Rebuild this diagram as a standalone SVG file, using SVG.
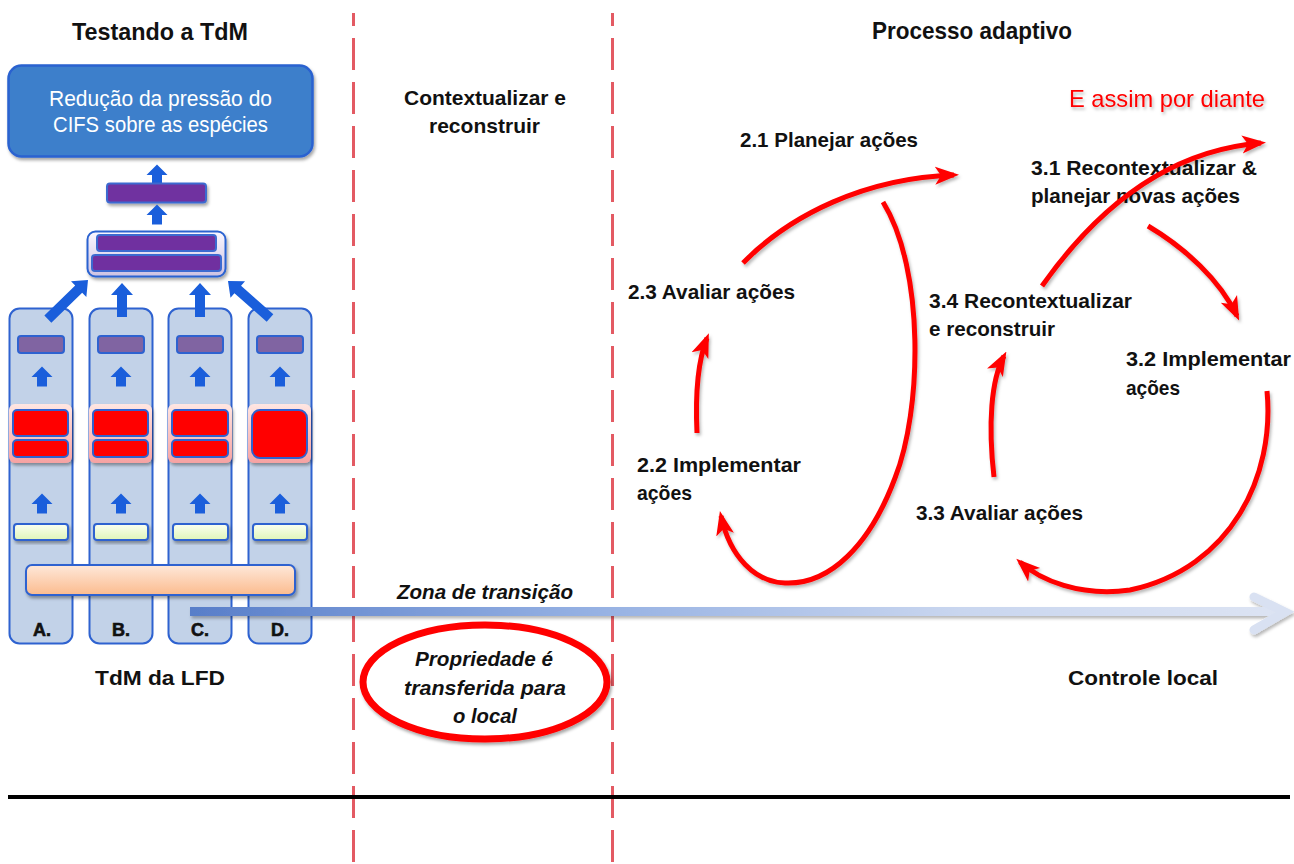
<svg xmlns="http://www.w3.org/2000/svg" xmlns:xlink="http://www.w3.org/1999/xlink" width="1294" height="864" viewBox="0 0 1294 864">
  <style>
    .t { font-family: "Liberation Sans", Arial, sans-serif; font-weight: bold; font-size: 21px; fill: #111; }
    .h { font-size: 24px; }
    .it { font-style: italic; }
    .col { fill: #c2d2e8; stroke: #2e62d0; stroke-width: 2; }
    .prp { fill: #8064a2; stroke: #2e62d0; stroke-width: 2; }
    .vio { fill: #7030a0; stroke: #3c6ad0; stroke-width: 2; }
    .red { fill: #ff0000; stroke: #2e62d0; stroke-width: 2; }
    .lime { fill: url(#limeG); stroke: #2e62d0; stroke-width: 2; }
    .pink { fill: url(#pinkG); }
    .barrow { fill: #1a5edb; }
    .loop { fill: none; stroke: #ff0000; stroke-width: 5; marker-end: url(#barb); }
    .sep { fill: none; stroke: #e35a63; stroke-width: 3; stroke-dasharray: 32 12; stroke-dashoffset: 19; }
    .lbl { font-family: "Liberation Sans", Arial, sans-serif; font-weight: bold; font-size: 18px; fill: #111; stroke: #111; stroke-width: 0.6; text-anchor: middle; }
  </style>
  <defs>
    <filter id="shadow" x="-10%" y="-10%" width="130%" height="140%">
      <feDropShadow dx="1.5" dy="2.5" stdDeviation="1.8" flood-color="#000" flood-opacity="0.35"/>
    </filter>
    <filter id="lshadow" x="-5%" y="-20%" width="110%" height="160%">
      <feDropShadow dx="1.5" dy="2.5" stdDeviation="1.5" flood-color="#000" flood-opacity="0.28"/>
    </filter>
    <filter id="glow" x="-5%" y="-5%" width="110%" height="110%">
      <feGaussianBlur stdDeviation="1.2"/>
    </filter>
    <linearGradient id="limeG" x1="0" y1="0" x2="0" y2="1">
      <stop offset="0" stop-color="#fbfff2"/>
      <stop offset="1" stop-color="#dff5b8"/>
    </linearGradient>
    <linearGradient id="pinkG" x1="0" y1="0" x2="0" y2="1">
      <stop offset="0" stop-color="#ffe6e2"/>
      <stop offset="1" stop-color="#f6a2a2"/>
    </linearGradient>
    <linearGradient id="peachG" x1="0" y1="0" x2="0" y2="1">
      <stop offset="0" stop-color="#fee8da"/>
      <stop offset="1" stop-color="#fbbb8e"/>
    </linearGradient>
    <linearGradient id="lavG" x1="0" y1="0" x2="0" y2="1">
      <stop offset="0" stop-color="#faf7ff"/>
      <stop offset="1" stop-color="#cdc2e2"/>
    </linearGradient>
    <linearGradient id="flowG" gradientUnits="userSpaceOnUse" x1="190" y1="0" x2="1290" y2="0">
      <stop offset="0" stop-color="#587ec9"/>
      <stop offset="0.35" stop-color="#93afe2"/>
      <stop offset="0.7" stop-color="#c9d6ef"/>
      <stop offset="1" stop-color="#dde4f3"/>
    </linearGradient>
    <!-- barbed head for the red cycle arrows -->
    <marker id="barb" markerUnits="userSpaceOnUse" viewBox="0 0 24 20" refX="19" refY="10" markerWidth="24" markerHeight="20" orient="auto">
      <path d="M0,1 L24,10 L0,19 L6,10 Z" fill="#ff0000"/>
    </marker>
    <!-- small upward block arrow, origin at the head's base -->
    <path id="up" d="M0,-10.5 L10.5,0 L5,0 L5,9.5 L-5,9.5 L-5,0 L-10.5,0 Z"/>
    <!-- block arrows pointing along +x, tip at origin -->
    <path id="diag" d="M0,0 L-13,-11 L-13,-5 L-56,-5 L-56,5 L-13,5 L-13,11 Z"/>
    <path id="vert" d="M0,0 L-12,-11 L-12,-5 L-34,-5 L-34,5 L-12,5 L-12,11 Z"/>
  </defs>

  <rect width="1294" height="864" fill="#ffffff"/>

  <!-- zone separators -->
  <g id="separators">
    <line class="sep" x1="353.5" y1="13" x2="353.5" y2="864" stroke="#f3b9bc" stroke-width="6" filter="url(#glow)" opacity="0.8"/>
    <line class="sep" x1="353.5" y1="13" x2="353.5" y2="864"/>
    <line class="sep" x1="612.5" y1="13" x2="612.5" y2="864" stroke="#f3b9bc" stroke-width="6" filter="url(#glow)" opacity="0.8"/>
    <line class="sep" x1="612.5" y1="13" x2="612.5" y2="864"/>
  </g>

  <!-- baseline -->
  <line x1="8" y1="797" x2="1290" y2="797" stroke="#000" stroke-width="4"/>

  <!-- headings -->
  <g id="headings">
    <text class="t h" x="72" y="40" textLength="176" lengthAdjust="spacingAndGlyphs">Testando a TdM</text>
    <text class="t h" x="872" y="39" textLength="200" lengthAdjust="spacingAndGlyphs">Processo adaptivo</text>
    <text class="t" x="95" y="685" textLength="130" lengthAdjust="spacingAndGlyphs">TdM da LFD</text>
    <text class="t" x="1068" y="685" textLength="150" lengthAdjust="spacingAndGlyphs">Controle local</text>
  </g>

  <!-- goal box -->
  <g id="goal">
    <rect x="8.5" y="65.5" width="304" height="91" rx="13" fill="#3e7fcb" stroke="#2a62d0" stroke-width="2.5" filter="url(#shadow)"/>
    <text x="49" y="106" textLength="223" lengthAdjust="spacingAndGlyphs" style="font-family:'Liberation Sans',Arial,sans-serif;font-size:22px;fill:#ffffff">Redução da pressão do</text>
    <text x="53" y="132" textLength="215" lengthAdjust="spacingAndGlyphs" style="font-family:'Liberation Sans',Arial,sans-serif;font-size:22px;fill:#ffffff">CIFS sobre as espécies</text>
  </g>

  <!-- result chain above the columns -->
  <g id="chain">
    <use xlink:href="#up" class="barrow" x="157" y="175"/>
    <rect class="vio" x="107" y="183.5" width="99" height="19" rx="3" filter="url(#shadow)"/>
    <use xlink:href="#up" class="barrow" x="157" y="215"/>
    <rect x="87.5" y="231.5" width="138" height="45" rx="8" fill="url(#lavG)" stroke="#2a62d0" stroke-width="2" filter="url(#shadow)"/>
    <rect class="vio" x="97" y="235" width="119" height="16" rx="3"/>
    <rect class="vio" x="92" y="255" width="129" height="16" rx="3"/>
  </g>

  <!-- column A -->
  <g id="colA">
    <rect class="col" x="9.5" y="308.5" width="63" height="335" rx="10"/>
    <rect class="prp" x="18" y="336" width="46" height="17" rx="3"/>
    <use xlink:href="#up" class="barrow" x="42" y="377"/>
    <rect class="pink" x="9" y="404" width="63" height="59" rx="6" filter="url(#shadow)"/>
    <rect class="red" x="13" y="410" width="55" height="26" rx="4"/>
    <rect class="red" x="13" y="440" width="55" height="17" rx="4"/>
    <use xlink:href="#up" class="barrow" x="42" y="504"/>
    <rect class="lime" x="14" y="524" width="54" height="16" rx="3" filter="url(#shadow)"/>
    <text class="lbl" x="42" y="636">A.</text>
  </g>

  <!-- column B -->
  <g id="colB">
    <rect class="col" x="89.5" y="308.5" width="63" height="335" rx="10"/>
    <rect class="prp" x="98" y="336" width="46" height="17" rx="3"/>
    <use xlink:href="#up" class="barrow" x="121" y="377"/>
    <rect class="pink" x="89" y="404" width="63" height="59" rx="6" filter="url(#shadow)"/>
    <rect class="red" x="93" y="410" width="55" height="26" rx="4"/>
    <rect class="red" x="93" y="440" width="55" height="17" rx="4"/>
    <use xlink:href="#up" class="barrow" x="121" y="504"/>
    <rect class="lime" x="94" y="524" width="54" height="16" rx="3" filter="url(#shadow)"/>
    <text class="lbl" x="121" y="636">B.</text>
  </g>

  <!-- column C -->
  <g id="colC">
    <rect class="col" x="168.5" y="308.5" width="63" height="335" rx="10"/>
    <rect class="prp" x="177" y="336" width="46" height="17" rx="3"/>
    <use xlink:href="#up" class="barrow" x="200" y="377"/>
    <rect class="pink" x="168" y="404" width="64" height="59" rx="6" filter="url(#shadow)"/>
    <rect class="red" x="172" y="410" width="56" height="26" rx="4"/>
    <rect class="red" x="172" y="440" width="56" height="17" rx="4"/>
    <use xlink:href="#up" class="barrow" x="200" y="504"/>
    <rect class="lime" x="173" y="524" width="55" height="16" rx="3" filter="url(#shadow)"/>
    <text class="lbl" x="200" y="636">C.</text>
  </g>

  <!-- column D -->
  <g id="colD">
    <rect class="col" x="248.5" y="308.5" width="63" height="335" rx="10"/>
    <rect class="prp" x="257" y="336" width="46" height="17" rx="3"/>
    <use xlink:href="#up" class="barrow" x="280" y="377"/>
    <rect class="pink" x="248" y="404" width="63" height="59" rx="6" filter="url(#shadow)"/>
    <rect class="red" x="252" y="410" width="55" height="48" rx="8"/>
    <use xlink:href="#up" class="barrow" x="280" y="504"/>
    <rect class="lime" x="253" y="524" width="54" height="16" rx="3" filter="url(#shadow)"/>
    <text class="lbl" x="280" y="636">D.</text>
  </g>

  <!-- arrows from the columns into the combined box -->
  <g id="feeds" class="barrow">
    <use xlink:href="#diag" transform="translate(88,280) rotate(-44.2)"/>
    <use xlink:href="#vert" transform="translate(122,283) rotate(-90)"/>
    <use xlink:href="#vert" transform="translate(200,283) rotate(-90)"/>
    <use xlink:href="#diag" transform="translate(228,281) rotate(-138.6)"/>
  </g>

  <!-- shared base bar -->
  <g id="base">
    <rect x="26" y="565" width="269" height="30" rx="6" fill="url(#peachG)" stroke="#2e62d0" stroke-width="2" filter="url(#shadow)"/>
  </g>

  <!-- transition flow arrow -->
  <g id="flow" filter="url(#lshadow)">
    <rect x="190" y="607" width="1090" height="9" fill="url(#flowG)"/>
    <polyline points="1254,597 1285,612 1254,630" fill="none" stroke="#d9e1f2" stroke-width="9" stroke-linejoin="miter" stroke-linecap="round"/>
  </g>

  <!-- middle zone -->
  <g id="contextualize">
    <text class="t" x="404" y="105" textLength="162" lengthAdjust="spacingAndGlyphs">Contextualizar e</text>
    <text class="t" x="429" y="133" textLength="111" lengthAdjust="spacingAndGlyphs">reconstruir</text>
    <text class="t it" x="397" y="599" textLength="176" lengthAdjust="spacingAndGlyphs">Zona de transição</text>
  </g>

  <g id="ownership">
    <ellipse cx="485" cy="682" rx="122" ry="57" fill="#ffffff" stroke="#ff0000" stroke-width="7" filter="url(#shadow)"/>
    <text class="t it" x="415" y="666" textLength="138" lengthAdjust="spacingAndGlyphs">Propriedade é</text>
    <text class="t it" x="404" y="695" textLength="162" lengthAdjust="spacingAndGlyphs">transferida para</text>
    <text class="t it" x="453" y="723" textLength="64" lengthAdjust="spacingAndGlyphs">o local</text>
  </g>

  <!-- cycle 2 labels -->
  <g id="cycle2">
    <text class="t" x="740" y="147" textLength="178" lengthAdjust="spacingAndGlyphs">2.1 Planejar ações</text>
    <text class="t" x="637" y="472" textLength="164" lengthAdjust="spacingAndGlyphs">2.2 Implementar</text>
    <text class="t" x="637" y="500" textLength="55" lengthAdjust="spacingAndGlyphs">ações</text>
    <text class="t" x="628" y="299" textLength="167" lengthAdjust="spacingAndGlyphs">2.3 Avaliar ações</text>
  </g>

  <!-- cycle 3 labels -->
  <g id="cycle3">
    <text class="t" x="1031" y="175" textLength="226" lengthAdjust="spacingAndGlyphs">3.1 Recontextualizar &amp;</text>
    <text class="t" x="1031" y="203" textLength="209" lengthAdjust="spacingAndGlyphs">planejar novas ações</text>
    <text class="t" x="1126" y="366" textLength="165" lengthAdjust="spacingAndGlyphs">3.2 Implementar</text>
    <text class="t" x="1126" y="395" textLength="54" lengthAdjust="spacingAndGlyphs">ações</text>
    <text class="t" x="916" y="520" textLength="167" lengthAdjust="spacingAndGlyphs">3.3 Avaliar ações</text>
    <text class="t" x="929" y="308" textLength="203" lengthAdjust="spacingAndGlyphs">3.4 Recontextualizar</text>
    <text class="t" x="929" y="336" textLength="126" lengthAdjust="spacingAndGlyphs">e reconstruir</text>
  </g>

  <g id="onward">
    <text x="1069" y="107" textLength="196" lengthAdjust="spacingAndGlyphs" filter="url(#lshadow)" style="font-family:'Liberation Sans',Arial,sans-serif;font-size:24px;fill:#ff0000">E assim por diante</text>
  </g>

  <!-- cycle connectors -->
  <g id="connectors" filter="url(#lshadow)">
    <path class="loop" d="M743,263 C790,215 865,178 954,175"/>
    <path class="loop" d="M883,202 C925,270 922,410 895,478 C870,545 830,585 785,583 C755,582 730,557 721,516"/>
    <path class="loop" d="M697,433 C695,390 699,358 707,338"/>
    <path class="loop" d="M1042,286 C1090,218 1160,151 1261,143"/>
    <path class="loop" d="M1148,226 C1185,248 1220,280 1237,316"/>
    <path class="loop" d="M1267,391 C1275,475 1232,568 1130,590 C1080,597 1040,580 1020,562"/>
    <path class="loop" d="M994,477 C988,425 991,380 1004,356"/>
  </g>
</svg>
